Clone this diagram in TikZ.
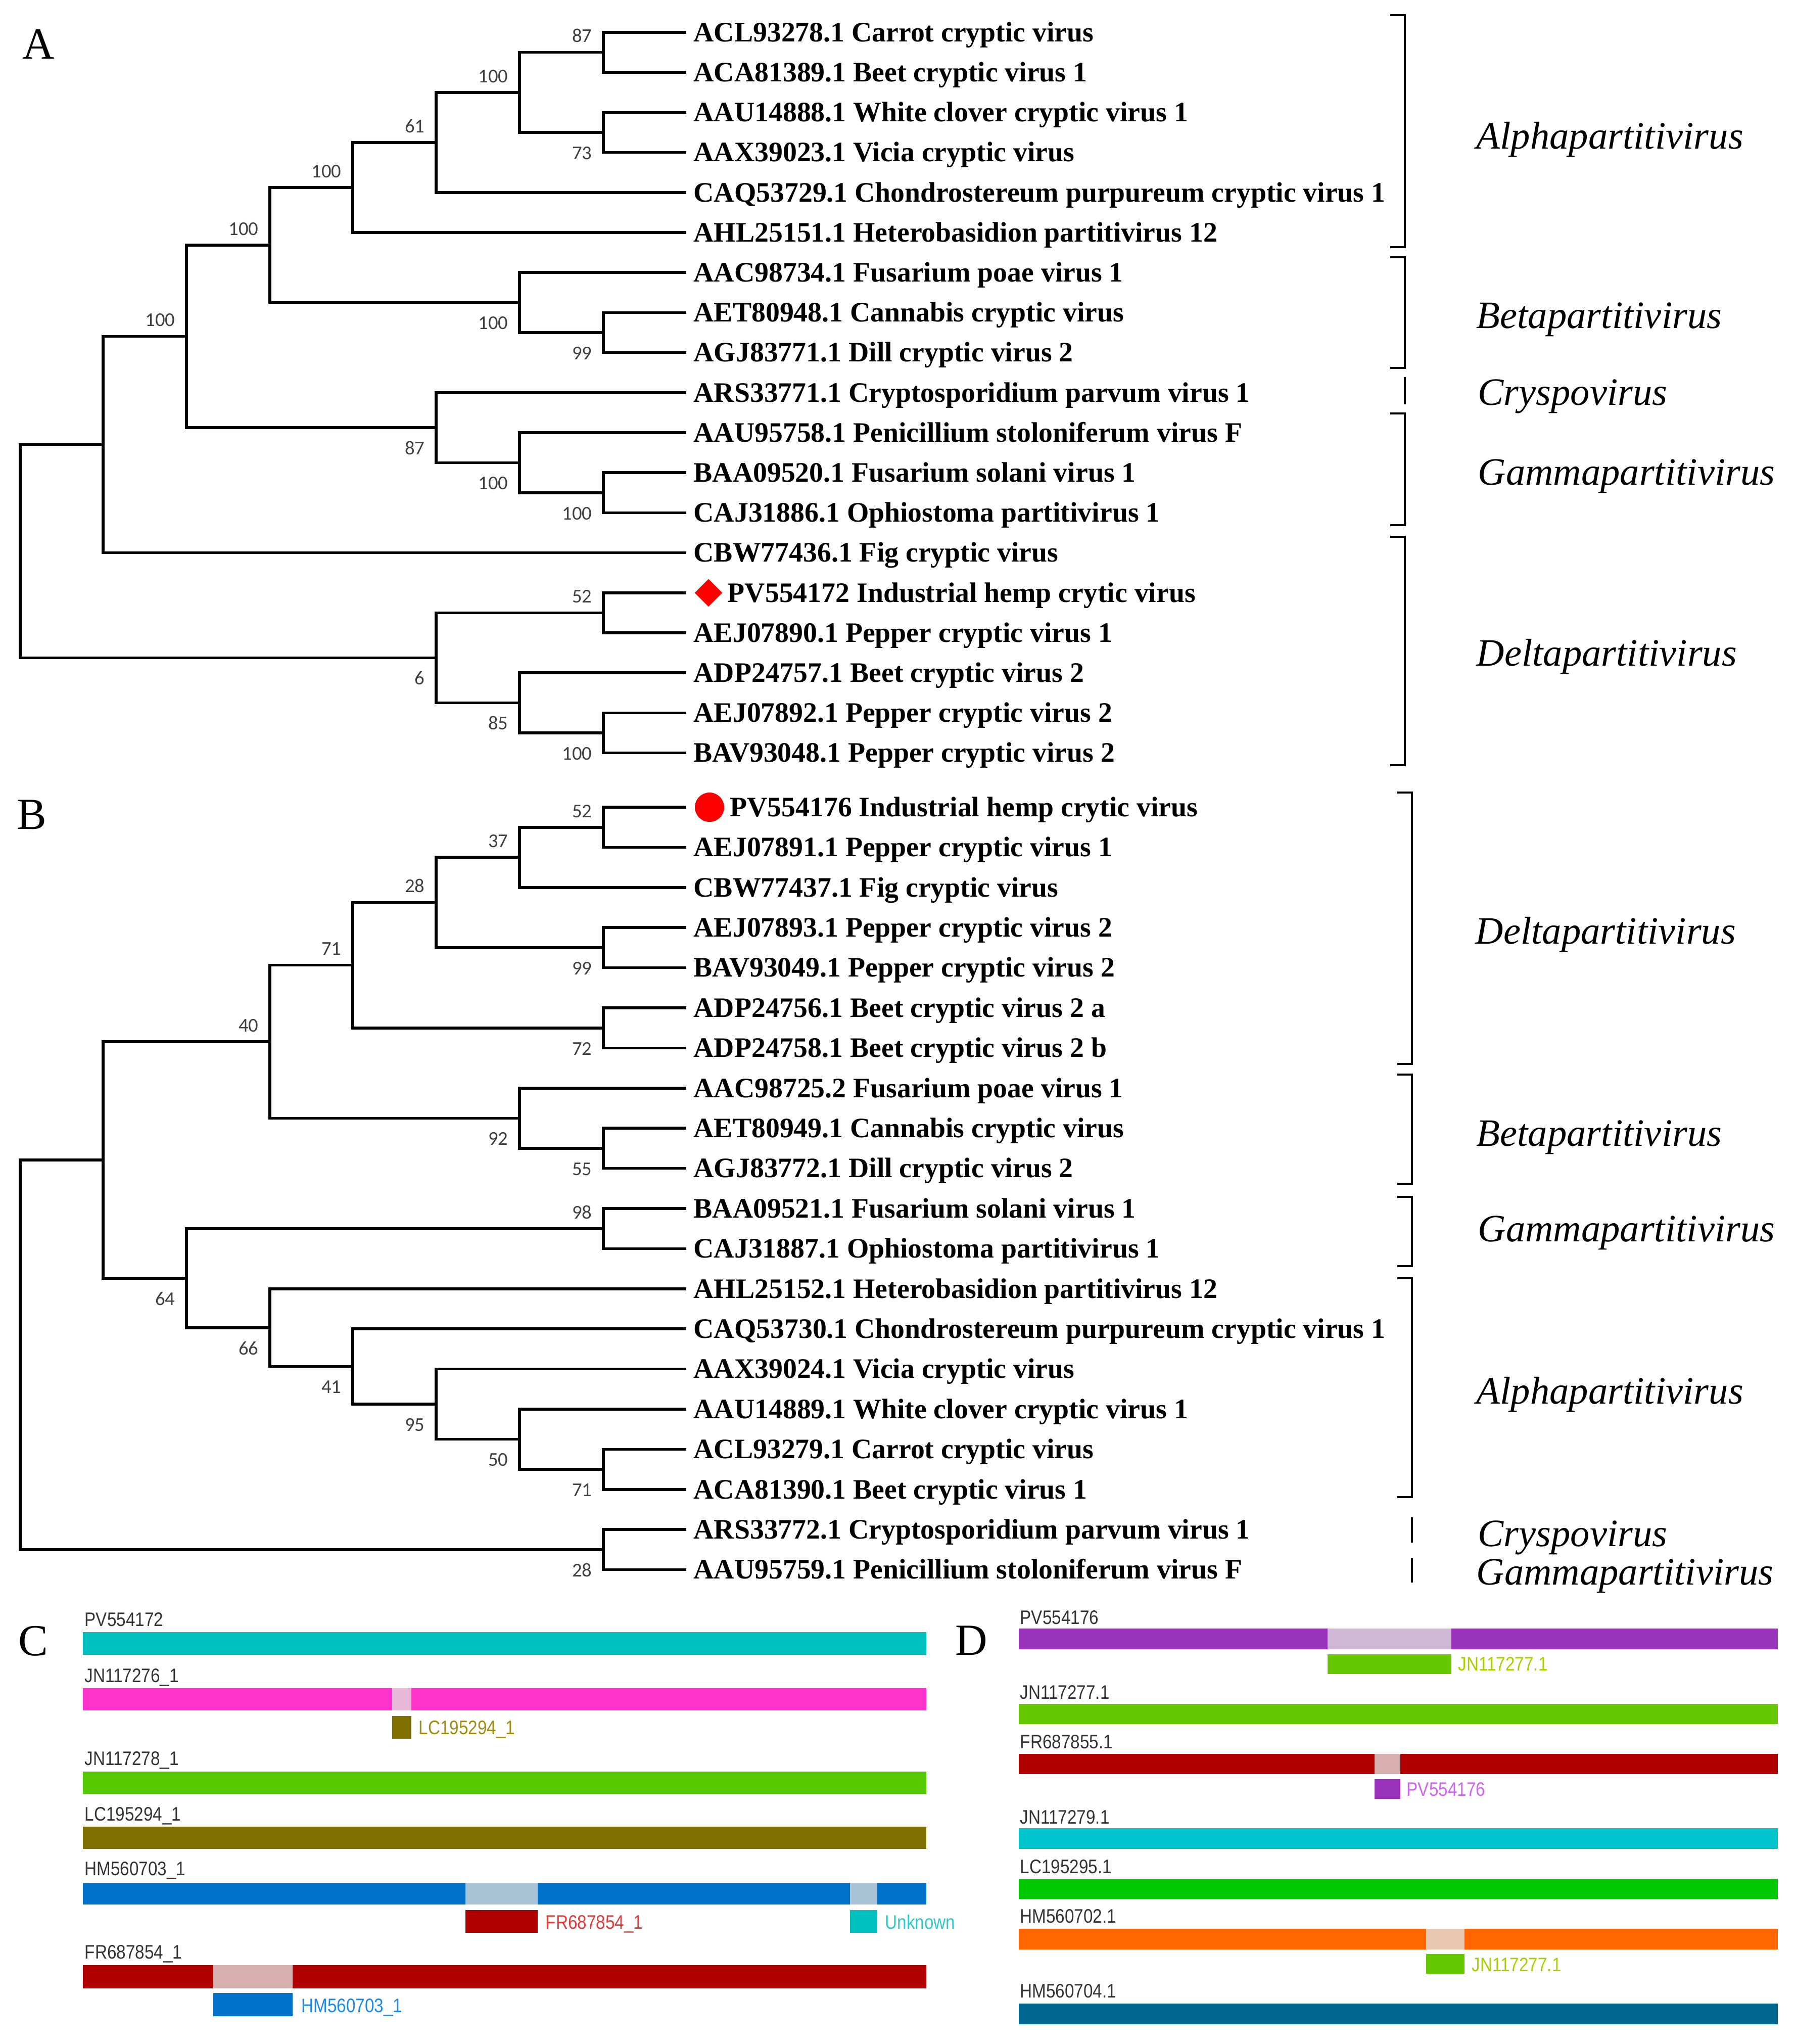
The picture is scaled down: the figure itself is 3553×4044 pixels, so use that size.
\documentclass[tikz,border=0pt]{standalone}
\usepackage{fontspec}
\setmainfont{Liberation Serif}
\newfontfamily\bootfont{Carlito}
\newfontfamily\barfont[FakeStretch=0.86]{Liberation Sans}
\usepackage{xcolor}
\usetikzlibrary{calc}
\usetikzlibrary{positioning}
\usetikzlibrary{shapes.geometric}

\definecolor{barGray}{HTML}{333333}
\definecolor{cCya}{HTML}{00C0C0}
\definecolor{cMag}{HTML}{FF33CC}
\definecolor{cMagL}{HTML}{E8B8D8}
\definecolor{cOli}{HTML}{7F6F00}
\definecolor{cGrC}{HTML}{55C800}
\definecolor{cBlu}{HTML}{0070C8}
\definecolor{cBluL}{HTML}{A8C4D6}
\definecolor{cRed}{HTML}{B00000}
\definecolor{cRedL}{HTML}{D8B0B0}
\definecolor{cPur}{HTML}{9933BB}
\definecolor{cPurL}{HTML}{D0B8D6}
\definecolor{cGrD}{HTML}{66C800}
\definecolor{cCyD}{HTML}{00C4CC}
\definecolor{cGr2}{HTML}{00C800}
\definecolor{cOra}{HTML}{FF6600}
\definecolor{cOraL}{HTML}{E8C8B0}
\definecolor{cTea}{HTML}{006890}
\definecolor{tOli}{HTML}{A08A10}
\definecolor{tRed}{HTML}{E03A3A}
\definecolor{tCya}{HTML}{30C8C8}
\definecolor{tBlu}{HTML}{1E88E5}
\definecolor{tGrn}{HTML}{A6D000}
\definecolor{tPur}{HTML}{CC66EE}

% clade: name, x of the node, upper child, lower child
\newcommand{\mkclade}[4]{%
	\path (#3) -- (#4) coordinate [midway] (#1m);
	\coordinate (#1) at (#2,0 |- #1m);
	\draw [branch] (#3) -| (#1) |- (#4);
}

\begin{document}
\begin{tikzpicture}
[
	x = 0.01cm, y = -0.01cm,
	branch/.style	= {line width = 1.6pt},
	bracket/.style	= {line width = 0.9pt},
	leaf/.style	= {anchor = west, inner sep = 0pt, font = \fontsize{15.85}{18}\selectfont\bfseries, text height = 10.4pt, text depth = 0pt},
	boot/.style	= {anchor = east, inner sep = 0pt, font = \bootfont\fontsize{11}{13}\selectfont, text = black!75, text height = 7pt, text depth = 0pt},
	bsu/.style	= {boot, shift = {(-22,-32)}},
	bsd/.style	= {boot, shift = {(-22,41)}},
	genus/.style	= {anchor = west, inner sep = 0pt, font = \fontsize{21.8}{26}\selectfont\itshape, text height = 14.4pt, text depth = 0pt},
	panel/.style	= {inner sep = 0pt, font = \fontsize{25}{30}\selectfont, text height = 16.5pt, text depth = 0pt},
	barlab/.style	= {anchor = west, inner sep = 0pt, font = \barfont\fontsize{11}{13}\selectfont, text = barGray, text height = 7.9pt, text depth = 0pt},
]

	\useasboundingbox (0,0) rectangle (3553,4044);

	\node (pA) [panel] at (76,87) {A};
	\node (pB) [panel] at (63,1611) {B};
	\node (pC) [panel] at (66,3246) {C};
	\node (pD) [panel] at (1922,3245) {D};

	% tree A
	\foreach \i in {0,...,18}
		\coordinate (ta\i) at (1358, {64+79.2*\i});
	\foreach \i/\txt in {0/ACL93278.1 Carrot cryptic virus, 1/ACA81389.1 Beet cryptic virus 1,
		2/AAU14888.1 White clover cryptic virus 1, 3/AAX39023.1 Vicia cryptic virus,
		4/CAQ53729.1 Chondrostereum purpureum cryptic virus 1, 5/AHL25151.1 Heterobasidion partitivirus 12,
		6/AAC98734.1 Fusarium poae virus 1, 7/AET80948.1 Cannabis cryptic virus,
		8/AGJ83771.1 Dill cryptic virus 2, 9/ARS33771.1 Cryptosporidium parvum virus 1,
		10/AAU95758.1 Penicillium stoloniferum virus F, 11/BAA09520.1 Fusarium solani virus 1,
		12/CAJ31886.1 Ophiostoma partitivirus 1, 13/CBW77436.1 Fig cryptic virus,
		15/AEJ07890.1 Pepper cryptic virus 1, 16/ADP24757.1 Beet cryptic virus 2,
		17/AEJ07892.1 Pepper cryptic virus 2, 18/BAV93048.1 Pepper cryptic virus 2}
		\node (la\i) [leaf] at (1372, {64+79.2*\i}) {\txt};
	\node (mkA) [diamond, fill = red, inner sep = 0pt, minimum width = 0.55cm, minimum height = 0.55cm] at (1402, {64+79.2*14}) {};
	\node (la14) [leaf, right = 0.09cm of mkA] {PV554172 Industrial hemp crytic virus};

	\mkclade{a87}{1194}{ta0}{ta1}
	\mkclade{a73}{1194}{ta2}{ta3}
	\mkclade{a100a}{1028}{a87}{a73}
	\mkclade{a61}{863}{a100a}{ta4}
	\mkclade{a100b}{698}{a61}{ta5}
	\mkclade{a99}{1194}{ta7}{ta8}
	\mkclade{a100c}{1028}{ta6}{a99}
	\mkclade{a100d}{534}{a100b}{a100c}
	\mkclade{a100e}{1194}{ta11}{ta12}
	\mkclade{a100f}{1028}{ta10}{a100e}
	\mkclade{a87b}{863}{ta9}{a100f}
	\mkclade{a100g}{369}{a100d}{a87b}
	\mkclade{aone}{204}{a100g}{ta13}
	\mkclade{a52}{1194}{ta14}{ta15}
	\mkclade{a100h}{1194}{ta17}{ta18}
	\mkclade{a85}{1028}{ta16}{a100h}
	\mkclade{a6}{863}{a52}{a85}
	\mkclade{aroot}{40}{aone}{a6}

	\node [bsu] at (a87) {87};
	\node [bsd] at (a73) {73};
	\node [bsu] at (a100a) {100};
	\node [bsu] at (a61) {61};
	\node [bsu] at (a100b) {100};
	\node [bsd] at (a99) {99};
	\node [bsd] at (a100c) {100};
	\node [bsu] at (a100d) {100};
	\node [bsd] at (a100e) {100};
	\node [bsd] at (a100f) {100};
	\node [bsd] at (a87b) {87};
	\node [bsu] at (a100g) {100};
	\node [bsu] at (a52) {52};
	\node [bsd] at (a100h) {100};
	\node [bsd] at (a85) {85};
	\node [bsd] at (a6) {6};

	\draw [bracket] (2751,30) -- (2780,30) -- (2780,489) -- (2751,489);
	\draw [bracket] (2751,509) -- (2780,509) -- (2780,728) -- (2751,728);
	\draw [bracket] (2780,746) -- (2780,800);
	\draw [bracket] (2751,818) -- (2780,818) -- (2780,1039) -- (2751,1039);
	\draw [bracket] (2751,1062) -- (2780,1062) -- (2780,1514) -- (2751,1514);

	\node [genus] at (2921,269) {Alphapartitivirus};
	\node [genus] at (2921,624) {Betapartitivirus};
	\node [genus] at (2924,776) {Cryspovirus};
	\node [genus] at (2924,934) {Gammapartitivirus};
	\node [genus] at (2921,1292) {Deltapartitivirus};

	% tree B
	\foreach \i in {0,...,19}
		\coordinate (tb\i) at (1358, {1597+79.4*\i});
	\foreach \i/\txt in {1/AEJ07891.1 Pepper cryptic virus 1, 2/CBW77437.1 Fig cryptic virus,
		3/AEJ07893.1 Pepper cryptic virus 2, 4/BAV93049.1 Pepper cryptic virus 2,
		5/ADP24756.1 Beet cryptic virus 2 a, 6/ADP24758.1 Beet cryptic virus 2 b,
		7/AAC98725.2 Fusarium poae virus 1, 8/AET80949.1 Cannabis cryptic virus,
		9/AGJ83772.1 Dill cryptic virus 2, 10/BAA09521.1 Fusarium solani virus 1,
		11/CAJ31887.1 Ophiostoma partitivirus 1, 12/AHL25152.1 Heterobasidion partitivirus 12,
		13/CAQ53730.1 Chondrostereum purpureum cryptic virus 1, 14/AAX39024.1 Vicia cryptic virus,
		15/AAU14889.1 White clover cryptic virus 1, 16/ACL93279.1 Carrot cryptic virus,
		17/ACA81390.1 Beet cryptic virus 1, 18/ARS33772.1 Cryptosporidium parvum virus 1,
		19/AAU95759.1 Penicillium stoloniferum virus F}
		\node (lb\i) [leaf] at (1372, {1597+79.4*\i}) {\txt};
	\node (mkB) [circle, fill = red, inner sep = 0pt, minimum size = 0.58cm] at (1404,1597) {};
	\node (lb0) [leaf, right = 0.1cm of mkB] {PV554176 Industrial hemp crytic virus};

	\mkclade{b52}{1194}{tb0}{tb1}
	\mkclade{b37}{1028}{b52}{tb2}
	\mkclade{b99}{1194}{tb3}{tb4}
	\mkclade{b28}{863}{b37}{b99}
	\mkclade{b72}{1194}{tb5}{tb6}
	\mkclade{b71}{698}{b28}{b72}
	\mkclade{b55}{1194}{tb8}{tb9}
	\mkclade{b92}{1028}{tb7}{b55}
	\mkclade{b40}{534}{b71}{b92}
	\mkclade{b98}{1194}{tb10}{tb11}
	\mkclade{b71b}{1194}{tb16}{tb17}
	\mkclade{b50}{1028}{tb15}{b71b}
	\mkclade{b95}{863}{tb14}{b50}
	\mkclade{b41}{698}{tb13}{b95}
	\mkclade{b66}{534}{tb12}{b41}
	\mkclade{b64}{369}{b98}{b66}
	\mkclade{bone}{204}{b40}{b64}
	\mkclade{b28b}{1194}{tb18}{tb19}
	\mkclade{broot}{40}{bone}{b28b}

	\node [bsu] at (b52) {52};
	\node [bsu] at (b37) {37};
	\node [bsd] at (b99) {99};
	\node [bsu] at (b28) {28};
	\node [bsd] at (b72) {72};
	\node [bsu] at (b71) {71};
	\node [bsd] at (b55) {55};
	\node [bsd] at (b92) {92};
	\node [bsu] at (b40) {40};
	\node [bsu] at (b98) {98};
	\node [bsd] at (b71b) {71};
	\node [bsd] at (b50) {50};
	\node [bsd] at (b95) {95};
	\node [bsd] at (b41) {41};
	\node [bsd] at (b66) {66};
	\node [bsd] at (b64) {64};
	\node [bsd] at (b28b) {28};

	\draw [bracket] (2765,1568) -- (2794,1568) -- (2794,2105) -- (2765,2105);
	\draw [bracket] (2765,2126) -- (2794,2126) -- (2794,2342) -- (2765,2342);
	\draw [bracket] (2765,2368) -- (2794,2368) -- (2794,2505) -- (2765,2505);
	\draw [bracket] (2765,2529) -- (2794,2529) -- (2794,2962) -- (2765,2962);
	\draw [bracket] (2794,3002) -- (2794,3052);
	\draw [bracket] (2794,3083) -- (2794,3131);

	\node [genus] at (2919,1842) {Deltapartitivirus};
	\node [genus] at (2921,2242) {Betapartitivirus};
	\node [genus] at (2924,2431) {Gammapartitivirus};
	\node [genus] at (2921,2752) {Alphapartitivirus};
	\node [genus] at (2924,3034) {Cryspovirus};
	\node [genus] at (2921,3110) {Gammapartitivirus};

	% panel C
	\fill [cCya] (164,3229) rectangle (1833,3274);
	\fill [cMag] (164,3340) rectangle (1833,3384);
	\fill [cMagL] (776,3340) rectangle (814,3384);
	\fill [cOli] (776,3395) rectangle (814,3440);
	\fill [cGrC] (164,3505) rectangle (1833,3549);
	\fill [cOli] (164,3614) rectangle (1833,3658);
	\fill [cBlu] (164,3725) rectangle (1833,3768);
	\fill [cBluL] (921,3725) rectangle (1064,3768);
	\fill [cBluL] (1682,3725) rectangle (1736,3768);
	\fill [cRed] (921,3779) rectangle (1064,3824);
	\fill [cCya] (1682,3779) rectangle (1736,3824);
	\fill [cRed] (164,3888) rectangle (1833,3934);
	\fill [cRedL] (422,3888) rectangle (579,3934);
	\fill [cBlu] (422,3943) rectangle (579,3989);

	\node (c1) [barlab] at (167,3204) {PV554172};
	\node (c2) [barlab] at (167,3315) {JN117276\_1};
	\node (c2s) [barlab, text = tOli] at (828,3418) {LC195294\_1};
	\node (c3) [barlab] at (167,3479) {JN117278\_1};
	\node (c4) [barlab] at (167,3589) {LC195294\_1};
	\node (c5) [barlab] at (167,3697) {HM560703\_1};
	\node (c5s) [barlab, text = tRed] at (1079,3803) {FR687854\_1};
	\node (c5u) [barlab, text = tCya] at (1751,3803) {Unknown};
	\node (c6) [barlab] at (167,3862) {FR687854\_1};
	\node (c6s) [barlab, text = tBlu] at (596,3968) {HM560703\_1};

	% panel D
	\fill [cPur] (2016,3222) rectangle (3518,3263);
	\fill [cPurL] (2627,3222) rectangle (2872,3263);
	\fill [cGrD] (2627,3273) rectangle (2872,3312);
	\fill [cGrD] (2016,3371) rectangle (3518,3411);
	\fill [cRed] (2016,3470) rectangle (3518,3510);
	\fill [cRedL] (2720,3470) rectangle (2771,3510);
	\fill [cPur] (2720,3520) rectangle (2771,3559);
	\fill [cCyD] (2016,3617) rectangle (3518,3658);
	\fill [cGr2] (2016,3717) rectangle (3518,3757);
	\fill [cOra] (2016,3816) rectangle (3518,3857);
	\fill [cOraL] (2822,3816) rectangle (2898,3857);
	\fill [cGrD] (2822,3866) rectangle (2898,3905);
	\fill [cTea] (2016,3964) rectangle (3518,4005);

	\node (d1) [barlab] at (2018,3200) {PV554176};
	\node (d1s) [barlab, text = tGrn] at (2885,3292) {JN117277.1};
	\node (d2) [barlab] at (2018,3348) {JN117277.1};
	\node (d3) [barlab] at (2018,3446) {FR687855.1};
	\node (d3s) [barlab, text = tPur] at (2783,3540) {PV554176};
	\node (d4) [barlab] at (2018,3595) {JN117279.1};
	\node (d5) [barlab] at (2018,3693) {LC195295.1};
	\node (d6) [barlab] at (2018,3791) {HM560702.1};
	\node (d6s) [barlab, text = tGrn] at (2912,3887) {JN117277.1};
	\node (d7) [barlab] at (2018,3939) {HM560704.1};

\end{tikzpicture}
\end{document}
